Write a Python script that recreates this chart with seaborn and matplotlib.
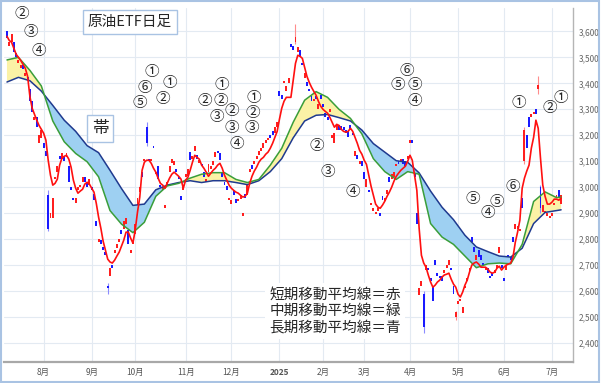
import numpy as np
import pandas as pd
import matplotlib
matplotlib.use("Agg")
import matplotlib.pyplot as plt
import matplotlib.patches as patches
import seaborn as sns

# trading calendar (Tokyo), Jul 2024 - Jul 2025
jp_holidays = ["2024-07-15", "2024-08-12", "2024-09-16", "2024-09-23", "2024-10-14",
               "2024-11-04", "2024-12-31", "2025-01-01", "2025-01-02", "2025-01-03",
               "2025-01-13", "2025-02-11", "2025-02-24", "2025-03-20", "2025-04-29",
               "2025-05-05", "2025-05-06"]
dates = pd.bdate_range("2024-07-09", "2025-07-07", freq="C", holidays=jp_holidays)

closes = [
    3575, 3560, 3590, 3520, 3500, 3490, 3470, 3455, 3440, 3410,
    3330, 3290, 3270, 3230, 3200, 3220, 3150, 3120, 2840, 2900,
    2960, 3040, 3080, 3110, 3130, 3100, 3130, 3020, 2990, 2950,
    2960, 3000, 3010, 3040, 3020, 3000, 3030, 2990, 2950, 2850,
    2800, 2780, 2760, 2740, 2610, 2690, 2690, 2760, 2780, 2800,
    2820, 2870, 2880, 2780, 2760, 2790, 2860, 2960, 3000, 3040,
    3110, 3170, 3100, 3110, 3150, 3060, 3030, 3000, 3000, 2930,
    3020, 3080, 3110, 3100, 3060, 3030, 2950, 3000, 3050, 3070,
    3105, 3120, 3160, 3110, 3100, 3080, 3040, 3030, 3090, 3080,
    3100, 3135, 3130, 3105, 3040, 3010, 2990, 2960, 2950, 2970,
    2940, 2950, 2970, 2900, 2960, 3010, 3070, 3070, 3100, 3120,
    3140, 3150, 3170, 3180, 3190, 3190, 3200, 3230, 3250, 3350,
    3340, 3410, 3390, 3420, 3540, 3530, 3580, 3540, 3500, 3470,
    3440, 3390, 3370, 3330, 3340, 3340, 3320, 3340, 3310, 3270,
    3260, 3300, 3200, 3210, 3240, 3220, 3220, 3220, 3210, 3195,
    3220, 3200, 3140, 3110, 3100, 3080, 3030, 3030, 2980, 2940,
    2920, 2900, 2920, 2890, 2950, 2960, 2990, 3020, 3050, 3060,
    3090, 3090, 3110, 3090, 3080, 3120, 3180, 3170, 3040, 2860,
    2610, 2640, 2460, 2700, 2680, 2640, 2560, 2700, 2660, 2650,
    2640, 2680, 2700, 2720, 2680, 2590, 2520, 2560, 2570, 2540,
    2620, 2650, 2690, 2790, 2750, 2740, 2730, 2720, 2700, 2690,
    2670, 2650, 2660, 2680, 2700, 2770, 2690, 2640, 2700, 2730,
    2720, 2790, 2860, 2850, 2840, 2920, 3220, 3150, 3230, 3280,
    3290, 3280, 3395, 2920, 2930, 2910, 2900, 2890, 2900, 2940,
    2970, 2960, 2970]

opens = [
    3600, 3545, 3560, 3560, 3515, 3480, 3460, 3470, 3430, 3425,
    3380, 3330, 3260, 3270, 3170, 3190, 3170, 3140, 2970, 2880,
    2880, 3030, 3060, 3120, 3110, 3120, 3115, 3080, 3000, 2960,
    2940, 2990, 3000, 3020, 3040, 3020, 3010, 3000, 2975, 2870,
    2790, 2795, 2770, 2750, 2620, 2660, 2700, 2745, 2765, 2790,
    2835, 2840, 2860, 2835, 2745, 2780, 2820, 2930, 2980, 3060,
    3100, 3230, 3110, 3100, 3160, 3050, 3080, 3010, 2990, 2920,
    3005, 3060, 3095, 3085, 3070, 3040, 2965, 2990, 3040, 3045,
    3135, 3110, 3140, 3125, 3095, 3090, 3058, 3020, 3060, 3070,
    3085, 3115, 3140, 3130, 3060, 3020, 3005, 2950, 2935, 2985,
    2955, 2945, 2955, 2890, 2975, 2970, 3060, 3085, 3090, 3110,
    3125, 3140, 3150, 3170, 3180, 3200, 3215, 3210, 3230, 3370,
    3355, 3400, 3370, 3400, 3550, 3545, 3560, 3520, 3530, 3480,
    3420, 3405, 3380, 3350, 3330, 3350, 3300, 3355, 3320, 3285,
    3270, 3290, 3190, 3170, 3220, 3240, 3235, 3230, 3220, 3215,
    3240, 3205, 3120, 3125, 3090, 3100, 3060, 3000, 2990, 2930,
    2910, 2895, 2910, 2900, 2965, 2945, 2975, 3040, 3030, 3040,
    3080, 3100, 3100, 3110, 3100, 3110, 3170, 3180, 3050, 2900,
    2585, 2620, 2590, 2680, 2690, 2650, 2620, 2720, 2670, 2660,
    2660, 2670, 2690, 2700, 2690, 2620, 2500, 2550, 2560, 2515,
    2610, 2640, 2670, 2810, 2770, 2720, 2760, 2740, 2710, 2680,
    2690, 2660, 2670, 2670, 2690, 2745, 2700, 2650, 2680, 2740,
    2730, 2810, 2840, 2840, 2830, 2960, 3100, 3200, 3270, 3270,
    3280, 3300, 3380, 3000, 2905, 2900, 2890, 2880, 2890, 2930,
    2960, 2990, 2935]

# long shadows that stand out
wick_idx = [18, 44, 61, 126, 182, 196, 226, 232, 233]
wick_lo = [2830, 2590, 3160, 3550, 2440, 2490, 3090, 3360, 2900]
wick_hi = [2990, 2630, 3250, 3630, 2600, 2525, 3230, 3430, 3010]

# short moving average (red), one value per session
short_ma = [
    3581, 3565, 3558, 3535, 3512, 3500, 3488, 3473, 3458, 3427,
    3350, 3304, 3281, 3258, 3238, 3223, 3208, 3181, 3104, 3046,
    3008, 3015, 3031, 3085, 3112, 3119, 3123, 3108, 3077, 3027,
    2996, 2977, 2985, 2992, 3012, 3019, 3012, 2996, 2981, 2938,
    2885, 2842, 2792, 2758, 2723, 2712, 2708, 2719, 2735, 2750,
    2773, 2796, 2827, 2827, 2804, 2785, 2835, 2904, 2962, 3065,
    3096, 3104, 3104, 3092, 3073, 3058, 3035, 3015, 3008, 2996,
    3015, 3035, 3050, 3058, 3050, 3042, 3031, 2996, 3027, 3038,
    3065, 3096, 3123, 3115, 3108, 3085, 3073, 3058, 3042, 3054,
    3065, 3073, 3085, 3092, 3073, 3046, 3027, 3008, 2996, 2988,
    2981, 2977, 2969, 2962, 2965, 2977, 3015, 3042, 3062, 3077,
    3096, 3108, 3115, 3127, 3135, 3150, 3169, 3192, 3215, 3262,
    3304, 3331, 3346, 3346, 3346, 3412, 3477, 3508, 3504, 3496,
    3462, 3427, 3404, 3385, 3369, 3354, 3331, 3312, 3300, 3292,
    3285, 3269, 3250, 3231, 3242, 3238, 3223, 3215, 3212, 3215,
    3227, 3215, 3192, 3169, 3142, 3127, 3104, 3088, 3046, 3004,
    2969, 2935, 2923, 2919, 2931, 2946, 2965, 2981, 3000, 3023,
    3042, 3054, 3065, 3073, 3081, 3100, 3123, 3104, 3046, 2988,
    2842, 2738, 2708, 2692, 2662, 2635, 2615, 2623, 2635, 2642,
    2654, 2662, 2665, 2669, 2646, 2627, 2615, 2588, 2577, 2596,
    2623, 2642, 2673, 2700, 2708, 2712, 2704, 2692, 2692, 2692,
    2685, 2673, 2669, 2673, 2688, 2696, 2681, 2692, 2700, 2704,
    2708, 2731, 2788, 2827, 2873, 2996, 3035, 3062, 3085, 3150,
    3192, 3258, 3227, 3112, 3008, 2965, 2935, 2935, 2942, 2954,
    2954, 2950, 2958]

# mid (green) and long (blue) averages, read every 5 sessions
ma_idx = [0, 5, 10, 15, 20, 25, 30, 35, 40, 45, 50, 55, 60, 65, 70, 75, 80, 85, 90, 95,
          100, 105, 110, 115, 120, 125, 130, 135, 140, 145, 150, 155, 160, 165, 170, 175,
          180, 185, 190, 195, 200, 205, 210, 215, 220, 225, 230, 235, 240, 242]
mid_ma = [3490, 3500, 3450, 3390, 3255, 3175, 3130, 3098, 3040, 2910,
          2858, 2825, 2865, 2965, 3005, 3015, 3035, 3050, 3056, 3056,
          3030, 3018, 3030, 3085, 3150, 3250, 3335, 3368, 3346, 3300,
          3265, 3205, 3110, 3060, 3030, 3060, 3050, 2860, 2808, 2780,
          2735, 2690, 2705, 2708, 2705, 2780, 2945, 2982, 2960, 2962]
long_ma = [3405, 3423, 3410, 3370, 3315, 3258, 3215, 3160, 3133, 3065,
           2995, 2930, 2935, 2990, 3008, 3018, 3025, 3018, 3025, 3025,
           3018, 3010, 3025, 3060, 3110, 3190, 3255, 3277, 3280, 3268,
           3255, 3220, 3168, 3135, 3102, 3096, 3055, 2985, 2923, 2875,
           2815, 2770, 2752, 2735, 2731, 2765, 2860, 2903, 2910, 2913]

y_ticks = [2400, 2500, 2600, 2700, 2800, 2900, 3000, 3100, 3200, 3300, 3400, 3500, 3600]

circled = [("②", 22, 14), ("③", 31, 32), ("④", 39, 51),
           ("①", 152, 72), ("⑥", 145, 88), ("①", 170, 83), ("⑤", 140, 103), ("②", 163, 99),
           ("①", 222, 85), ("②", 205, 101), ("②", 221, 101), ("③", 217, 117),
           ("②", 232, 111), ("③", 232, 128), ("④", 237, 144),
           ("①", 254, 98), ("②", 253, 113), ("③", 252, 128),
           ("②", 317, 146), ("③", 328, 172), ("④", 353, 192),
           ("⑥", 407, 71), ("⑤", 398, 85), ("⑤", 415, 85), ("④", 415, 101),
           ("①", 519, 103), ("②", 550, 108), ("①", 561, 98),
           ("⑥", 513, 187), ("⑤", 473, 199), ("⑤", 497, 202), ("④", 488, 213)]

sns.set_style("white")
plt.rcParams["font.family"] = ["Noto Sans CJK JP", "DejaVu Sans"]

W, H = 601, 383
fig = plt.figure(figsize=(W / 100, H / 100), dpi=100)
ax = fig.add_axes([4 / W, 21 / H, 569 / W, 354 / H])

x = np.arange(len(dates))
o = np.array(opens)
c = np.array(closes)
up = c >= o

# grid
ax.set_axisbelow(True)
ax.grid(True, color="#e3eaf2", lw=0.8)

# band between mid and long averages
mid = np.array(mid_ma)
lng = np.array(long_ma)
ax.fill_between(ma_idx, mid, lng, where=mid >= lng, interpolate=True,
                color="#fbf2a6", lw=0, zorder=1)
ax.fill_between(ma_idx, mid, lng, where=mid < lng, interpolate=True,
                color="#9ed0f2", lw=0, zorder=1)

# candles
ax.vlines(wick_idx, wick_lo, wick_hi,
          colors=["#ff8c8c" if up[i] else "#8c8cff" for i in wick_idx], lw=0.8, zorder=2)
body = np.maximum(np.abs(c - o), 8)
ax.bar(x, body, bottom=np.minimum(o, c), width=0.85,
       color=np.where(up, "#ff1f1f", "#1a1aff"), lw=0, zorder=2)

# moving averages
sns.lineplot(x=ma_idx, y=long_ma, color="#1f3a8f", lw=1.1, ax=ax, zorder=3)
sns.lineplot(x=ma_idx, y=mid_ma, color="#3a9e3a", lw=1.1, ax=ax, zorder=3)
sns.lineplot(x=x, y=short_ma, color="#ff1010", lw=1.2, ax=ax, zorder=4)

ax.set_xlim(-1.3, 247.2)
ax.set_ylim(2327, 3690)

# month ticks at first session of each month
month_pos = [i for i in range(1, len(dates)) if dates[i].month != dates[i - 1].month]
month_lab = [str(dates[i].year) if dates[i].month == 1 else f"{dates[i].month}月" for i in month_pos]
ax.set_xticks(month_pos)
ax.set_xticklabels(month_lab, fontsize=6, color="#555555")
for t in ax.get_xticklabels():
    if t.get_text() == "2025":
        t.set_fontweight("bold")
ax.set_yticks(y_ticks)
ax.set_yticklabels([f"{v:,}" for v in y_ticks], fontsize=6, color="#666666")
ax.yaxis.tick_right()
ax.tick_params(axis="both", length=0)
ax.tick_params(axis="x", pad=4)
ax.tick_params(axis="y", pad=4)
ax.set_xlabel("")
ax.set_ylabel("")

for s in ["top", "left"]:
    ax.spines[s].set_visible(False)
ax.spines["right"].set_color("#b5b5b5")
ax.spines["right"].set_linewidth(1.0)
ax.spines["bottom"].set_color("#a8a8a8")
ax.spines["bottom"].set_linewidth(1.6)

# annotations
fig.text(130 / W, 1 - 22 / H, "原油ETF日足", fontsize=10.5, ha="center", va="center",
         bbox=dict(boxstyle="square,pad=0.35", fc="white", ec="#a9c3e3", lw=1))
fig.text(100 / W, 1 - 128 / H, "帯", fontsize=12, ha="center", va="center",
         bbox=dict(boxstyle="square,pad=0.3", fc="white", ec="#a9c3e3", lw=1))
fig.text(335 / W, 1 - 311 / H, "短期移動平均線＝赤\n中期移動平均線＝緑\n長期移動平均線＝青",
         fontsize=10.5, ha="center", va="center", linespacing=1.25,
         bbox=dict(boxstyle="square,pad=0.3", fc="white", ec="none"))
for s, px, py in circled:
    fig.text(px / W, 1 - py / H, s, fontsize=10.5, ha="center", va="center")

fig.add_artist(patches.Rectangle((0.002, 0.003), 0.995, 0.994, transform=fig.transFigure,
                                 fill=False, ec="#a9c3e3", lw=1.5))

fig.savefig("out.png", dpi=100)
plt.close(fig)
